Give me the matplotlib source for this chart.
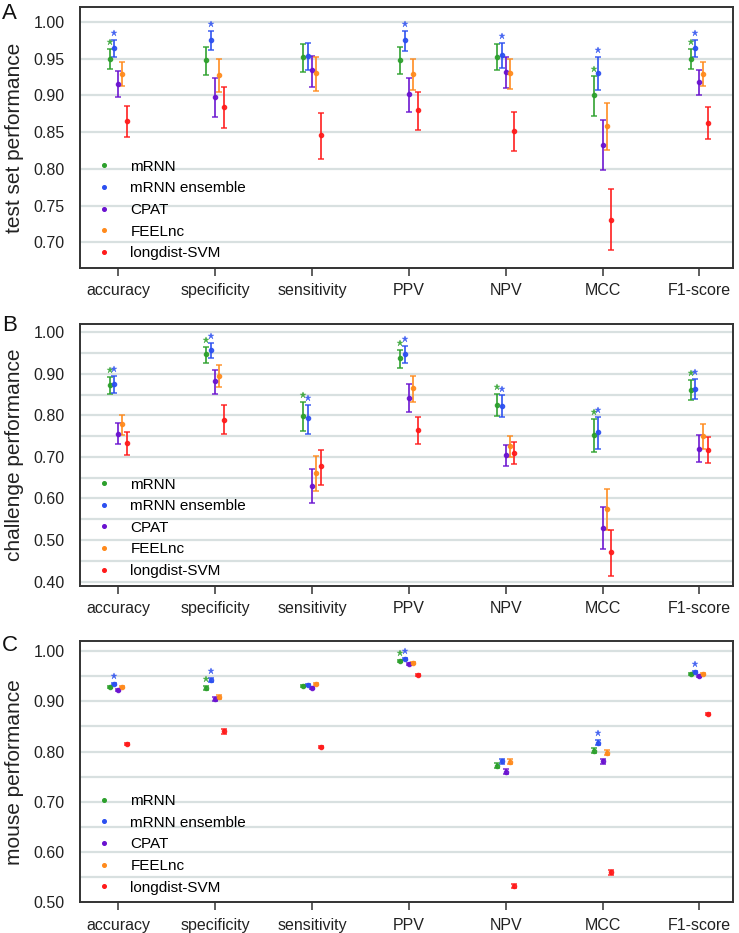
import numpy as np
import matplotlib
matplotlib.use("Agg")
import matplotlib.pyplot as plt
from matplotlib.transforms import offset_copy
from matplotlib.ticker import FormatStrFormatter
from matplotlib.lines import Line2D

plt.rcParams['font.family'] = ['Liberation Sans', 'DejaVu Sans']

categories = ["accuracy", "specificity", "sensitivity", "PPV", "NPV", "MCC", "F1-score"]
models = ["mRNN", "mRNN ensemble", "CPAT", "FEELnc", "longdist-SVM"]
colors = ["#2ca02c", "#2b4ff0", "#6a12d0", "#ff8a1c", "#ff1a1a"]
offsets = [-0.09, -0.042, 0.0, 0.042, 0.09]

# ---------- Panel A: test set ----------
test_mean = {
    "mRNN":          [0.950, 0.948, 0.952, 0.948, 0.952, 0.900, 0.950],
    "mRNN ensemble": [0.965, 0.976, 0.954, 0.976, 0.955, 0.931, 0.965],
    "CPAT":          [0.916, 0.898, 0.934, 0.902, 0.932, 0.833, 0.918],
    "FEELnc":        [0.929, 0.928, 0.930, 0.929, 0.930, 0.858, 0.929],
    "longdist-SVM":  [0.865, 0.884, 0.846, 0.880, 0.852, 0.731, 0.862],
}
test_lo = {
    "mRNN":          [0.936, 0.928, 0.932, 0.929, 0.934, 0.872, 0.936],
    "mRNN ensemble": [0.953, 0.962, 0.934, 0.961, 0.937, 0.907, 0.952],
    "CPAT":          [0.898, 0.870, 0.912, 0.878, 0.910, 0.798, 0.900],
    "FEELnc":        [0.913, 0.904, 0.906, 0.907, 0.909, 0.826, 0.913],
    "longdist-SVM":  [0.844, 0.856, 0.814, 0.853, 0.825, 0.689, 0.840],
}
test_hi = {
    "mRNN":          [0.963, 0.966, 0.970, 0.966, 0.970, 0.926, 0.963],
    "mRNN ensemble": [0.976, 0.988, 0.972, 0.988, 0.972, 0.952, 0.976],
    "CPAT":          [0.933, 0.924, 0.954, 0.924, 0.952, 0.866, 0.934],
    "FEELnc":        [0.945, 0.950, 0.952, 0.949, 0.950, 0.890, 0.945],
    "longdist-SVM":  [0.886, 0.912, 0.876, 0.905, 0.878, 0.773, 0.884],
}
test_stars = {
    "mRNN":          [1, 0, 0, 0, 0, 1, 1],
    "mRNN ensemble": [1, 1, 0, 1, 1, 1, 1],
}

# ---------- Panel B: challenge ----------
chal_mean = {
    "mRNN":          [0.872, 0.947, 0.798, 0.937, 0.825, 0.752, 0.862],
    "mRNN ensemble": [0.875, 0.957, 0.793, 0.948, 0.822, 0.759, 0.863],
    "CPAT":          [0.756, 0.883, 0.630, 0.842, 0.705, 0.530, 0.720],
    "FEELnc":        [0.779, 0.896, 0.662, 0.865, 0.727, 0.575, 0.750],
    "longdist-SVM":  [0.733, 0.790, 0.677, 0.764, 0.710, 0.470, 0.717],
}
chal_lo = {
    "mRNN":          [0.851, 0.926, 0.762, 0.914, 0.798, 0.713, 0.838],
    "mRNN ensemble": [0.854, 0.938, 0.756, 0.926, 0.796, 0.720, 0.839],
    "CPAT":          [0.730, 0.852, 0.588, 0.809, 0.679, 0.478, 0.687],
    "FEELnc":        [0.753, 0.868, 0.619, 0.833, 0.701, 0.525, 0.718],
    "longdist-SVM":  [0.704, 0.754, 0.633, 0.731, 0.682, 0.414, 0.685],
}
chal_hi = {
    "mRNN":          [0.892, 0.964, 0.833, 0.958, 0.851, 0.791, 0.885],
    "mRNN ensemble": [0.894, 0.974, 0.826, 0.968, 0.848, 0.796, 0.887],
    "CPAT":          [0.781, 0.910, 0.671, 0.875, 0.729, 0.579, 0.753],
    "FEELnc":        [0.802, 0.922, 0.703, 0.896, 0.751, 0.622, 0.780],
    "longdist-SVM":  [0.760, 0.826, 0.716, 0.797, 0.737, 0.523, 0.748],
}
chal_stars = {
    "mRNN":          [1, 1, 1, 1, 1, 1, 1],
    "mRNN ensemble": [1, 1, 1, 1, 1, 1, 1],
}

# ---------- Panel C: mouse ----------
mouse_mean = {
    "mRNN":          [0.929, 0.926, 0.930, 0.980, 0.772, 0.802, 0.954],
    "mRNN ensemble": [0.935, 0.942, 0.932, 0.985, 0.781, 0.818, 0.958],
    "CPAT":          [0.922, 0.905, 0.927, 0.975, 0.760, 0.781, 0.950],
    "FEELnc":        [0.929, 0.909, 0.935, 0.976, 0.780, 0.798, 0.955],
    "longdist-SVM":  [0.816, 0.840, 0.810, 0.952, 0.532, 0.560, 0.875],
}
mouse_lo = {
    "mRNN":          [0.927, 0.922, 0.928, 0.978, 0.767, 0.797, 0.952],
    "mRNN ensemble": [0.933, 0.938, 0.930, 0.983, 0.776, 0.813, 0.956],
    "CPAT":          [0.920, 0.901, 0.925, 0.973, 0.755, 0.776, 0.948],
    "FEELnc":        [0.927, 0.905, 0.933, 0.974, 0.775, 0.793, 0.953],
    "longdist-SVM":  [0.814, 0.835, 0.808, 0.950, 0.528, 0.555, 0.873],
}
mouse_hi = {
    "mRNN":          [0.931, 0.930, 0.932, 0.982, 0.777, 0.807, 0.956],
    "mRNN ensemble": [0.937, 0.946, 0.934, 0.987, 0.786, 0.823, 0.960],
    "CPAT":          [0.924, 0.909, 0.929, 0.977, 0.765, 0.786, 0.952],
    "FEELnc":        [0.931, 0.913, 0.937, 0.978, 0.785, 0.803, 0.957],
    "longdist-SVM":  [0.818, 0.845, 0.812, 0.954, 0.536, 0.565, 0.877],
}
mouse_stars = {
    "mRNN":          [0, 1, 0, 1, 0, 0, 0],
    "mRNN ensemble": [1, 1, 0, 1, 0, 1, 1],
}

panels = [
    dict(letter="A", ylabel="test set performance", mean=test_mean, lo=test_lo, hi=test_hi,
         stars=test_stars, ylim=(0.665, 1.02), major=0.05, yticks=(0.70, 1.00)),
    dict(letter="B", ylabel="challenge performance", mean=chal_mean, lo=chal_lo, hi=chal_hi,
         stars=chal_stars, ylim=(0.39, 1.02), major=0.10, yticks=(0.40, 1.00)),
    dict(letter="C", ylabel="mouse performance", mean=mouse_mean, lo=mouse_lo, hi=mouse_hi,
         stars=mouse_stars, ylim=(0.50, 1.02), major=0.10, yticks=(0.50, 1.00)),
]

W, H = 739, 933
fig = plt.figure(figsize=(W / 100, H / 100), dpi=100)
boxes = [(80, 7.3, 733.3, 268), (80, 324, 733.3, 585.7), (80, 641, 733.3, 902.3)]
letter_y = [3, 315, 635]

x = np.arange(len(categories))
spine_col = "#333333"
grid_col = "#d8e0e0"

for p, (l, t, r, b), ly in zip(panels, boxes, letter_y):
    ax = fig.add_axes([l / W, 1 - b / H, (r - l) / W, (b - t) / H])
    ax.set_xlim(-0.395, 6.35)
    ax.set_ylim(*p["ylim"])
    for gv in np.arange(0.40, 1.001, 0.05):
        if p["ylim"][0] < gv < p["ylim"][1] + 1e-9:
            ax.axhline(gv, color=grid_col, lw=1.6, zorder=0)
    ticks = np.round(np.arange(p["yticks"][0], p["yticks"][1] + 1e-9, p["major"]), 2)
    ax.set_yticks(ticks)
    ax.yaxis.set_major_formatter(FormatStrFormatter("%.2f"))
    ax.tick_params(axis="y", length=0, pad=11, labelsize=11.5, labelcolor="#222222")
    ax.set_xticks(x)
    ax.set_xticklabels(categories)
    ax.tick_params(axis="x", length=6, width=1.1, color=spine_col, pad=5, labelsize=11.5,
                   labelcolor="#222222")
    for s in ax.spines.values():
        s.set_color(spine_col)
        s.set_linewidth(1.4)

    star_tr = offset_copy(ax.transData, fig=fig, x=0, y=5.0, units="points")
    for m, c, off in zip(models, colors, offsets):
        mean = np.array(p["mean"][m])
        lo = np.array(p["lo"][m])
        hi = np.array(p["hi"][m])
        ax.errorbar(x + off, mean, yerr=[mean - lo, hi - mean], fmt="o", ms=3.0,
                    color=c, ecolor=c, elinewidth=1.3, capsize=2.2, capthick=1.1,
                    alpha=0.9, zorder=3)
        if m in p["stars"]:
            st = np.array(p["stars"][m], dtype=bool)
            ax.plot((x + off)[st], hi[st], ls="none", marker="*", ms=5.0, color=c,
                    mec=c, mew=0.3, alpha=0.85, transform=star_tr, zorder=4)

    handles = [Line2D([0], [0], ls="none", marker="o", ms=2.6, color=c) for c in colors]
    ax.legend(handles, models, loc="lower left", bbox_to_anchor=(0.014, 0.0), frameon=False,
              fontsize=11, handlelength=1.0, handletextpad=1.2, labelspacing=0.5,
              borderaxespad=0.1)

    ax.set_ylabel(p["ylabel"], fontsize=15, color="#222222")
    ax.yaxis.set_label_coords(-0.085, 0.5)
    fig.text(2 / W, 1 - ly / H, p["letter"], fontsize=16, ha="left", va="top", color="#111111")

fig.savefig("out.png", dpi=100)
